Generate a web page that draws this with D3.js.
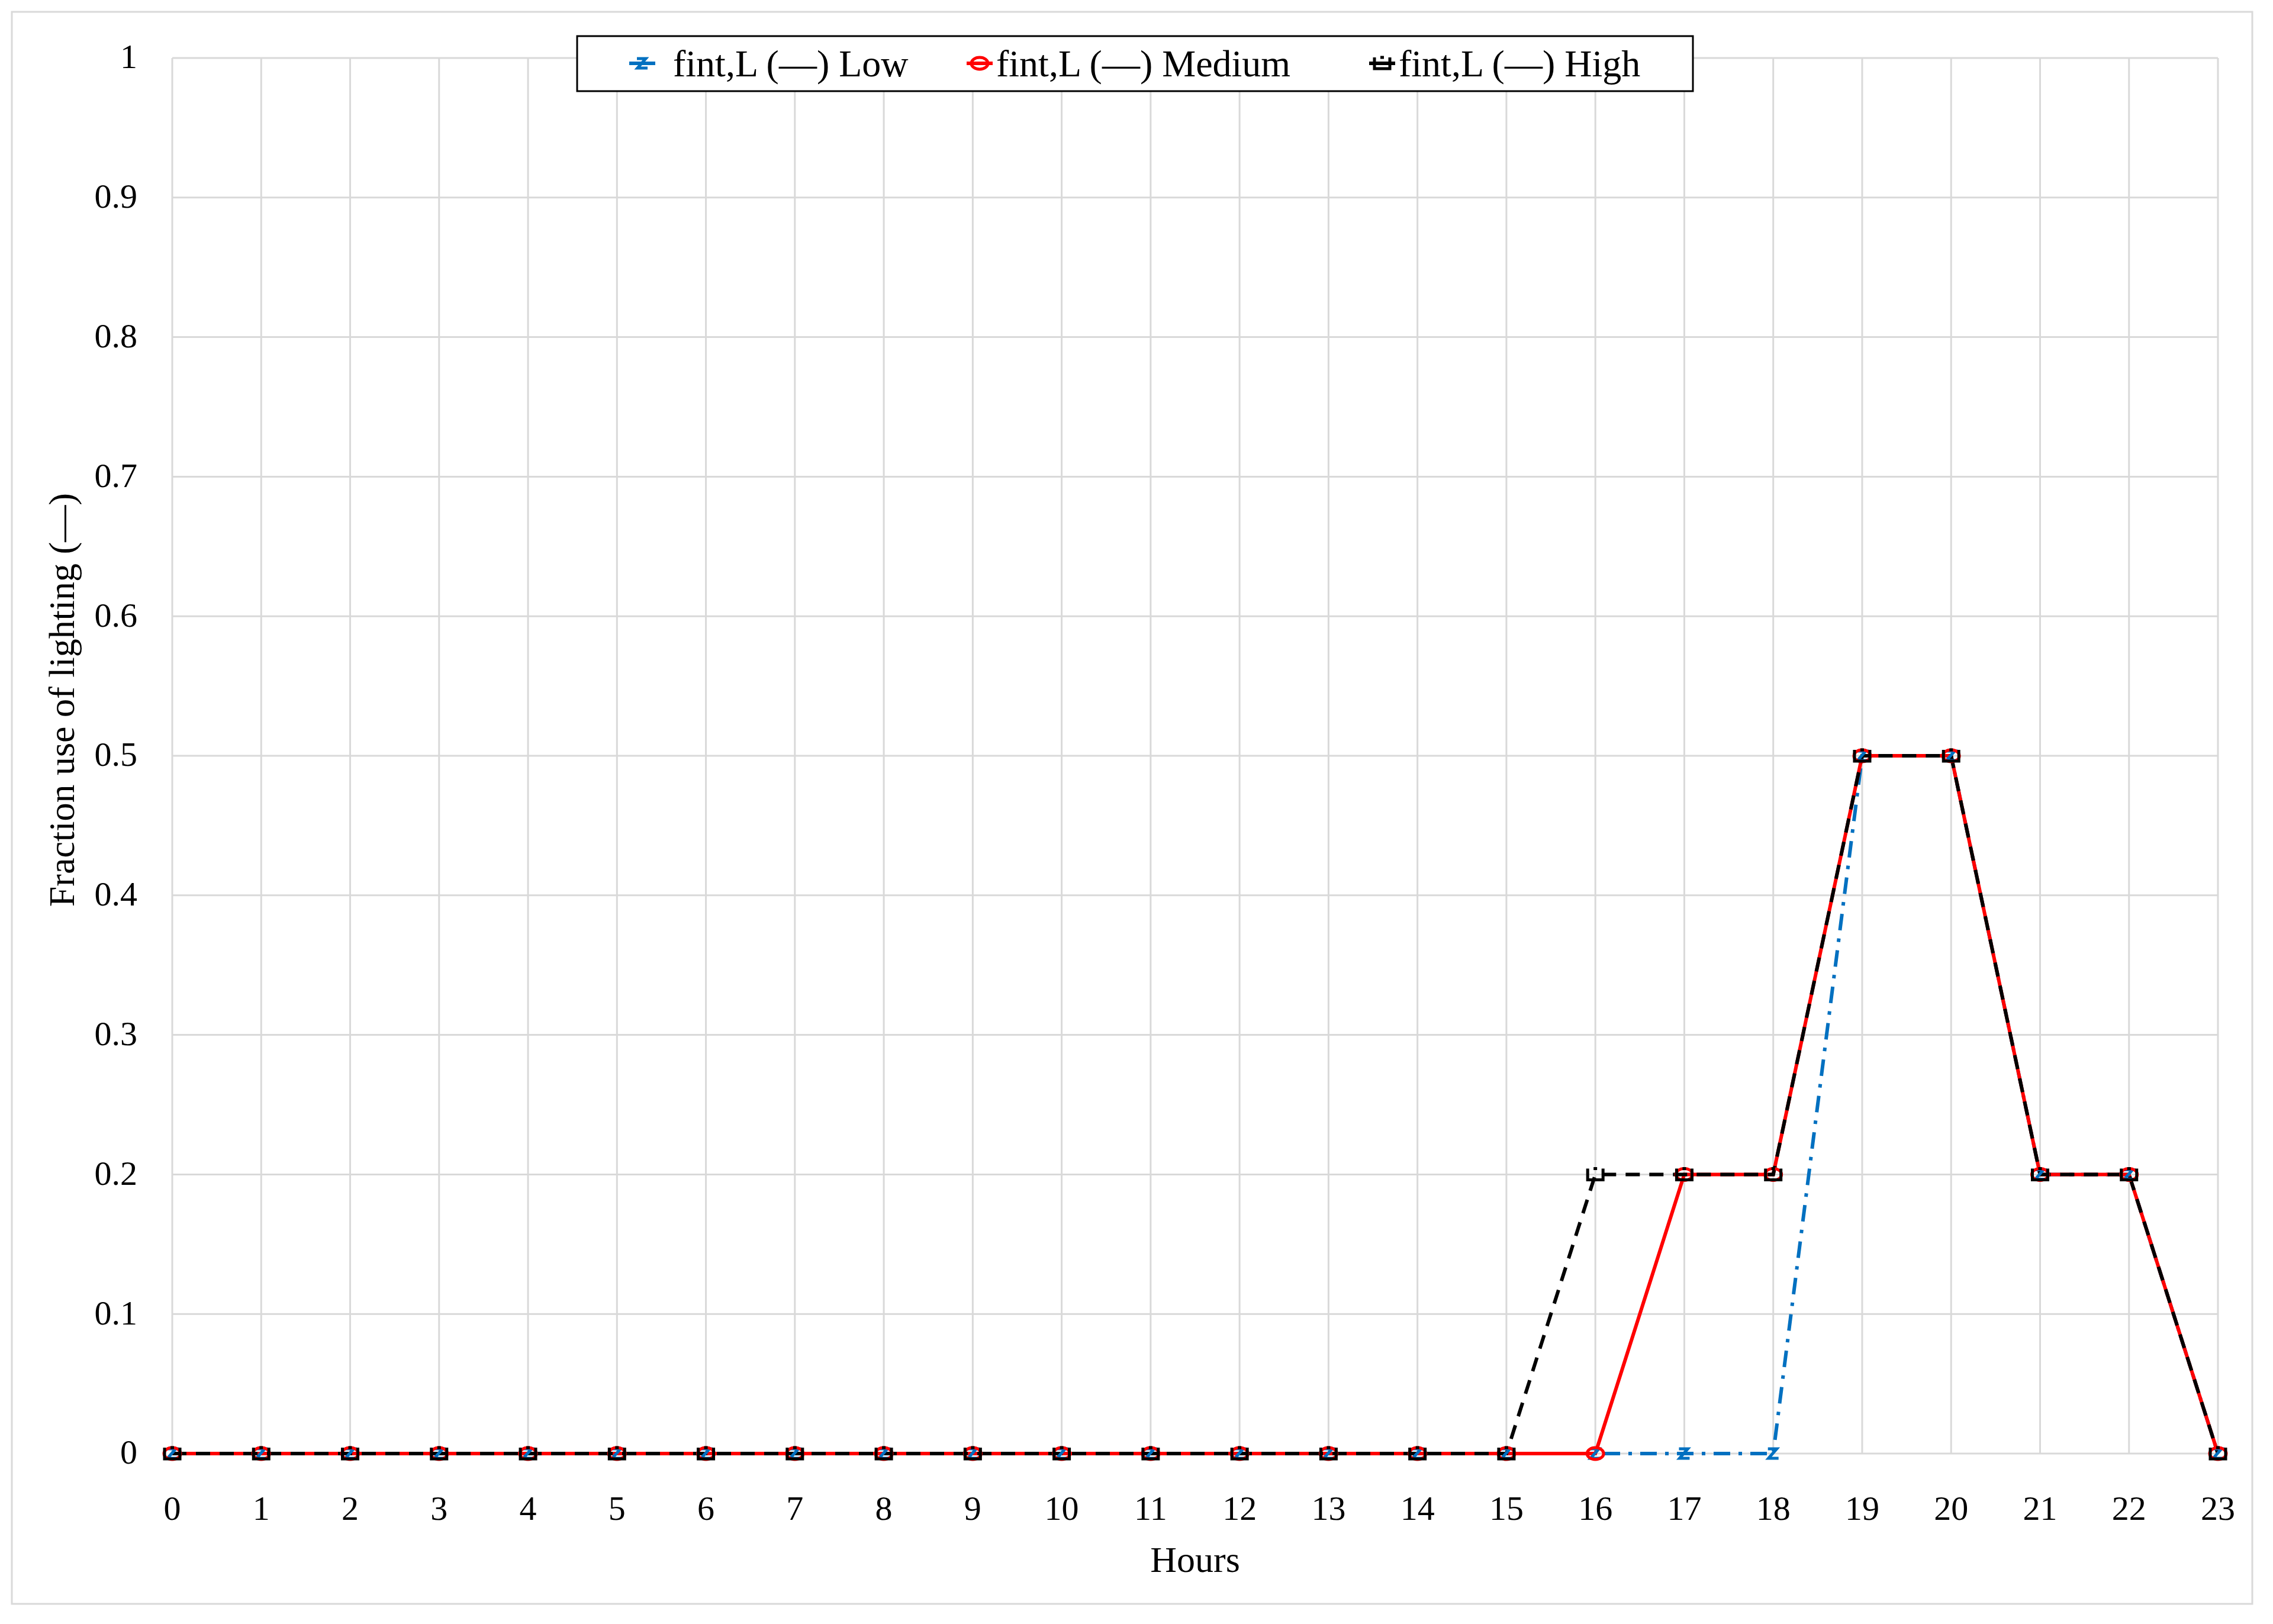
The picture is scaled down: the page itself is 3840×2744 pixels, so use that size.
<!DOCTYPE html>
<html>
<head>
<meta charset="utf-8">
<script src="https://cdn.jsdelivr.net/npm/d3@7"></script>
<style>
  body { margin: 0; background: #fff; }
  text { font-family: "Liberation Serif", "DejaVu Serif", serif; }
</style>
</head>
<body>
<script>
var hours = d3.range(0, 24);
var yTicks = [0, 0.1, 0.2, 0.3, 0.4, 0.5, 0.6, 0.7, 0.8, 0.9, 1];
var lowValues    = [0,0,0,0,0,0,0,0,0,0,0,0,0,0,0,0,0,0,0,0.5,0.5,0.2,0.2,0];
var mediumValues = [0,0,0,0,0,0,0,0,0,0,0,0,0,0,0,0,0,0.2,0.2,0.5,0.5,0.2,0.2,0];
var highValues   = [0,0,0,0,0,0,0,0,0,0,0,0,0,0,0,0,0.2,0.2,0.2,0.5,0.5,0.2,0.2,0];
var seriesNames = ["fint,L (\u2014) Low", "fint,L (\u2014) Medium", "fint,L (\u2014) High"];

var W = 3840, H = 2744;
var margin = {left: 291, right: 93, top: 98, bottom: 288};

var svg = d3.select("body").append("svg").attr("width", W).attr("height", H);
svg.append("rect").attr("x", 20).attr("y", 20).attr("width", 3785).attr("height", 2690)
  .attr("fill", "none").attr("stroke", "#d9d9d9").attr("stroke-width", 3);

var x = d3.scaleLinear().domain([0, 23]).range([margin.left, W - margin.right]);
var y = d3.scaleLinear().domain([0, 1]).range([H - margin.bottom, margin.top]);

var g = svg.append("g");
// grid
g.selectAll(".vg").data(hours).enter().append("line")
  .attr("x1", d => x(d)).attr("x2", d => x(d)).attr("y1", y(0)).attr("y2", y(1))
  .attr("stroke", "#d9d9d9").attr("stroke-width", 3);
g.selectAll(".hg").data(yTicks).enter().append("line")
  .attr("x1", x(0)).attr("x2", x(23)).attr("y1", d => y(d)).attr("y2", d => y(d))
  .attr("stroke", "#d9d9d9").attr("stroke-width", 3);

// tick labels
g.selectAll(".yl").data(yTicks).enter().append("text")
  .attr("x", 232).attr("y", d => y(d)).attr("dy", "0.3em")
  .attr("text-anchor", "end").attr("font-size", 58).text(d => d);
g.selectAll(".xl").data(hours).enter().append("text")
  .attr("x", d => x(d)).attr("y", 2568)
  .attr("text-anchor", "middle").attr("font-size", 58).text(d => d);

svg.append("text").attr("x", (x(0) + x(23)) / 2).attr("y", 2656)
  .attr("text-anchor", "middle").attr("font-size", 62).text("Hours");
svg.append("text").attr("transform", "translate(125," + y(0.54) + ") rotate(-90)")
  .attr("text-anchor", "middle").attr("font-size", 62).text("Fraction use of lighting (\u2014)");

var line = d3.line().x((d, i) => x(hours[i])).y(d => y(d));
var series = [
  {v: lowValues, color: "#0070c0", dash: "28,14,6,14", w: 6},
  {v: mediumValues, color: "#ff0000", dash: null, w: 6},
  {v: highValues, color: "#000000", dash: "24,16", w: 6}
];
series.forEach(function (s) {
  g.append("path").datum(s.v).attr("d", line).attr("fill", "none")
    .attr("stroke", s.color).attr("stroke-width", s.w)
    .attr("stroke-dasharray", s.dash);
});
// markers
function marker(sel, k, color) {
  if (k === 0) {
    sel.append("path").attr("d", "M-9,-8 L6,-8 L-8,8 L9,8").attr("fill", "none")
      .attr("stroke", color).attr("stroke-width", 5);
  } else if (k === 1) {
    sel.append("ellipse").attr("rx", 14).attr("ry", 10).attr("fill", "none")
      .attr("stroke", color).attr("stroke-width", 5);
  } else {
    sel.append("path").attr("d", "M-13,-10 L-13,9 L13,9 L13,-10 M-3,-10 L3,-10").attr("fill", "none")
      .attr("stroke", color).attr("stroke-width", 5);
  }
}
series.forEach(function (s, k) {
  s.v.forEach(function (d, i) {
    var m = g.append("g").attr("transform", "translate(" + x(hours[i]) + "," + y(d) + ")");
    marker(m, k, s.color);
  });
});

// legend
var lg = svg.append("g");
lg.append("rect").attr("x", 975).attr("y", 61).attr("width", 1885).attr("height", 93)
  .attr("fill", "#fff").attr("stroke", "#000").attr("stroke-width", 3);
var lx = [1085, 1655, 2335];
series.forEach(function (s, k) {
  lg.append("line").attr("x1", lx[k] - 22).attr("x2", lx[k] + 22).attr("y1", 107).attr("y2", 107)
    .attr("stroke", s.color).attr("stroke-width", 6);
  var m = lg.append("g").attr("transform", "translate(" + lx[k] + ",107)");
  marker(m, k, s.color);
  lg.append("text").attr("x", lx[k] + (k === 0 ? 52 : 28)).attr("y", 107).attr("dy", "0.35em")
    .attr("font-size", 64).text(seriesNames[k]);
});
</script>
</body>
</html>
